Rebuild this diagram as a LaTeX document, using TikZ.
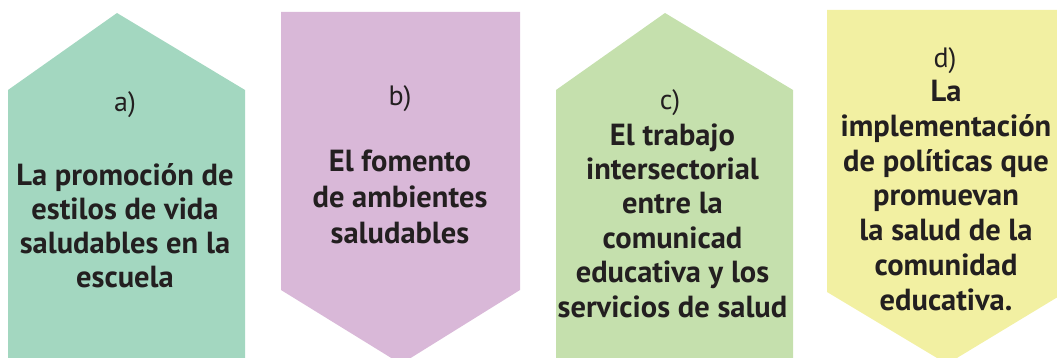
\documentclass[tikz,border=0pt]{standalone}
\usepackage{fontspec}
\setmainfont{PT Sans}
\definecolor{colA}{HTML}{A3D7C0}
\definecolor{colB}{HTML}{D9B8D8}
\definecolor{colC}{HTML}{C5E0AD}
\definecolor{colD}{HTML}{F2F0A2}
\definecolor{ink}{HTML}{231F20}
\tikzset{
  lbl/.style={inner sep=0pt, anchor=base, text=ink, font=\fontsize{28}{34.5}\selectfont},
  body/.style={inner sep=0pt, anchor=base, align=center, text=ink},
}
\newcommand{\bodyfont}[1]{\fontsize{30.5}{#1}\selectfont\bfseries}
\begin{document}
\begin{tikzpicture}[x=1pt,y=-1pt]
\useasboundingbox (0,0) rectangle (1057,358);
\clip (0,0) rectangle (1057,358);
\fill[colA] (8,362) -- (8,90) -- (117,13) -- (245,90) -- (245,362) -- cycle;
\fill[colB] (281,12) -- (520,12) -- (520,290) -- (401,364) -- (281,290) -- cycle;
\fill[colC] (556,362) -- (556,90) -- (665,13) -- (793,90) -- (793,362) -- cycle;
\fill[colD] (827,10) -- (1066,10) -- (1066,292) -- (947,364) -- (827,292) -- cycle;

\node[lbl] (la) at (125,112) {a)};
\node[body, font=\bodyfont{34}] (ta) at (125,287) {La promoción de\\estilos de vida\\saludables en la\\escuela};

\node[lbl] (lb) at (400,106) {b)};
\node[body, font=\bodyfont{35.5}] (tb) at (400,243) {El fomento\\de ambientes\\saludables};

\node[lbl] (lc) at (670,110) {c)};
\node[body, font=\bodyfont{34.4}] (tc) at (672.5,317) {El trabajo\\intersectorial\\entre la\\comunicad\\educativa y los\\servicios de salud};

\node[lbl] (ld) at (945,68) {d)};
\node[body, font=\bodyfont{34.7}] (td) at (946,310) {La\\implementación\\de políticas que\\promuevan\\la salud de la\\comunidad\\educativa.};
\end{tikzpicture}
\end{document}
